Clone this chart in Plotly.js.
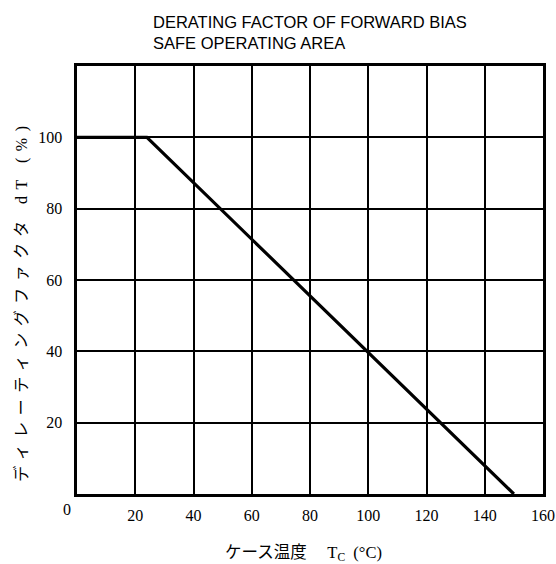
<!DOCTYPE html>
<html>
<head>
<meta charset="utf-8">
<script src="https://cdn.plot.ly/plotly-3.0.1.min.js"></script>
<style>
html,body{margin:0;padding:0;background:#fff;}
#chart{width:556px;height:564px;}
#chart g.annotation[data-index="1"] text{letter-spacing:6.5px;}
</style>
</head>
<body>
<div id="chart"></div>
<script>
// Data
const caseTemp = [0, 24, 150];          // T_C (°C)
const derating = [100, 100, 0];         // dT (%)
const xTickVals = [20, 40, 60, 80, 100, 120, 140, 160];
const xTickText = ["20", "40", "60", "80", "100", "120", "140", "160"];
const yTickVals = [20, 40, 60, 80, 100];
const yTickText = ["20", "40", "60", "80", "100"];
const originLabel = "0";
const chartTitle = "DERATING FACTOR OF FORWARD BIAS<br>SAFE OPERATING AREA";
const xTitle = "ケース温度　 T<sub>C</sub>  (°C)";
const yTitle = "ディレーティングファクタ dT (%)";

const serif = "Liberation Serif, 'Noto Sans CJK JP', serif";
const W = 556, H = 564, L = 77, R = 13, T = 66, B = 70;
const pw = W - L - R, ph = H - T - B;

const trace = {
  x: caseTemp, y: derating, type: "scatter", mode: "lines",
  line: {color: "#000", width: 3.2}, hoverinfo: "skip", showlegend: false
};

const layout = {
  width: W, height: H,
  margin: {l: L, r: R, t: T, b: B},
  paper_bgcolor: "#fff", plot_bgcolor: "#fff",
  title: {
    text: chartTitle, x: 153/W, xanchor: "left", xref: "container",
    y: 1 - 28/H, yanchor: "middle", yref: "container",
    font: {family: "Liberation Sans, Arial, sans-serif", size: 16.5, color: "#000"},
    align: "left"
  },
  xaxis: {
    range: [0, 160], tickvals: xTickVals, ticktext: xTickText,
    showgrid: true, gridcolor: "#000", gridwidth: 2,
    showline: true, linecolor: "#000", linewidth: 2.6, mirror: true,
    zeroline: false, ticks: "", ticklabelstandoff: 5,
    tickfont: {family: serif, size: 16, color: "#000"}
  },
  yaxis: {
    range: [0, 120], tickvals: yTickVals, ticktext: yTickText,
    showgrid: true, gridcolor: "#000", gridwidth: 2,
    showline: true, linecolor: "#000", linewidth: 2.6, mirror: true,
    zeroline: false, ticks: "", ticklabelstandoff: 9,
    tickfont: {family: serif, size: 16, color: "#000"}
  },
  annotations: [
    {
      x: 0, y: 0, xref: "x", yref: "y", text: originLabel, showarrow: false,
      xshift: -10, yshift: -15, font: {family: serif, size: 16, color: "#000"}
    },
    {
      x: (21 - L) / pw, y: (H - B - 301) / ph, xref: "paper", yref: "paper",
      xanchor: "center", yanchor: "middle", textangle: -90,
      text: yTitle, showarrow: false,
      font: {family: serif, size: 16, color: "#000"}
    },
    {
      x: (303 - L) / pw, y: (H - B - 553) / ph, xref: "paper", yref: "paper",
      xanchor: "center", yanchor: "middle",
      text: xTitle, showarrow: false,
      font: {family: serif, size: 16.5, color: "#000"}
    }
  ]
};

Plotly.newPlot("chart", [trace], layout, {displayModeBar: false, staticPlot: true});
</script>
</body>
</html>
